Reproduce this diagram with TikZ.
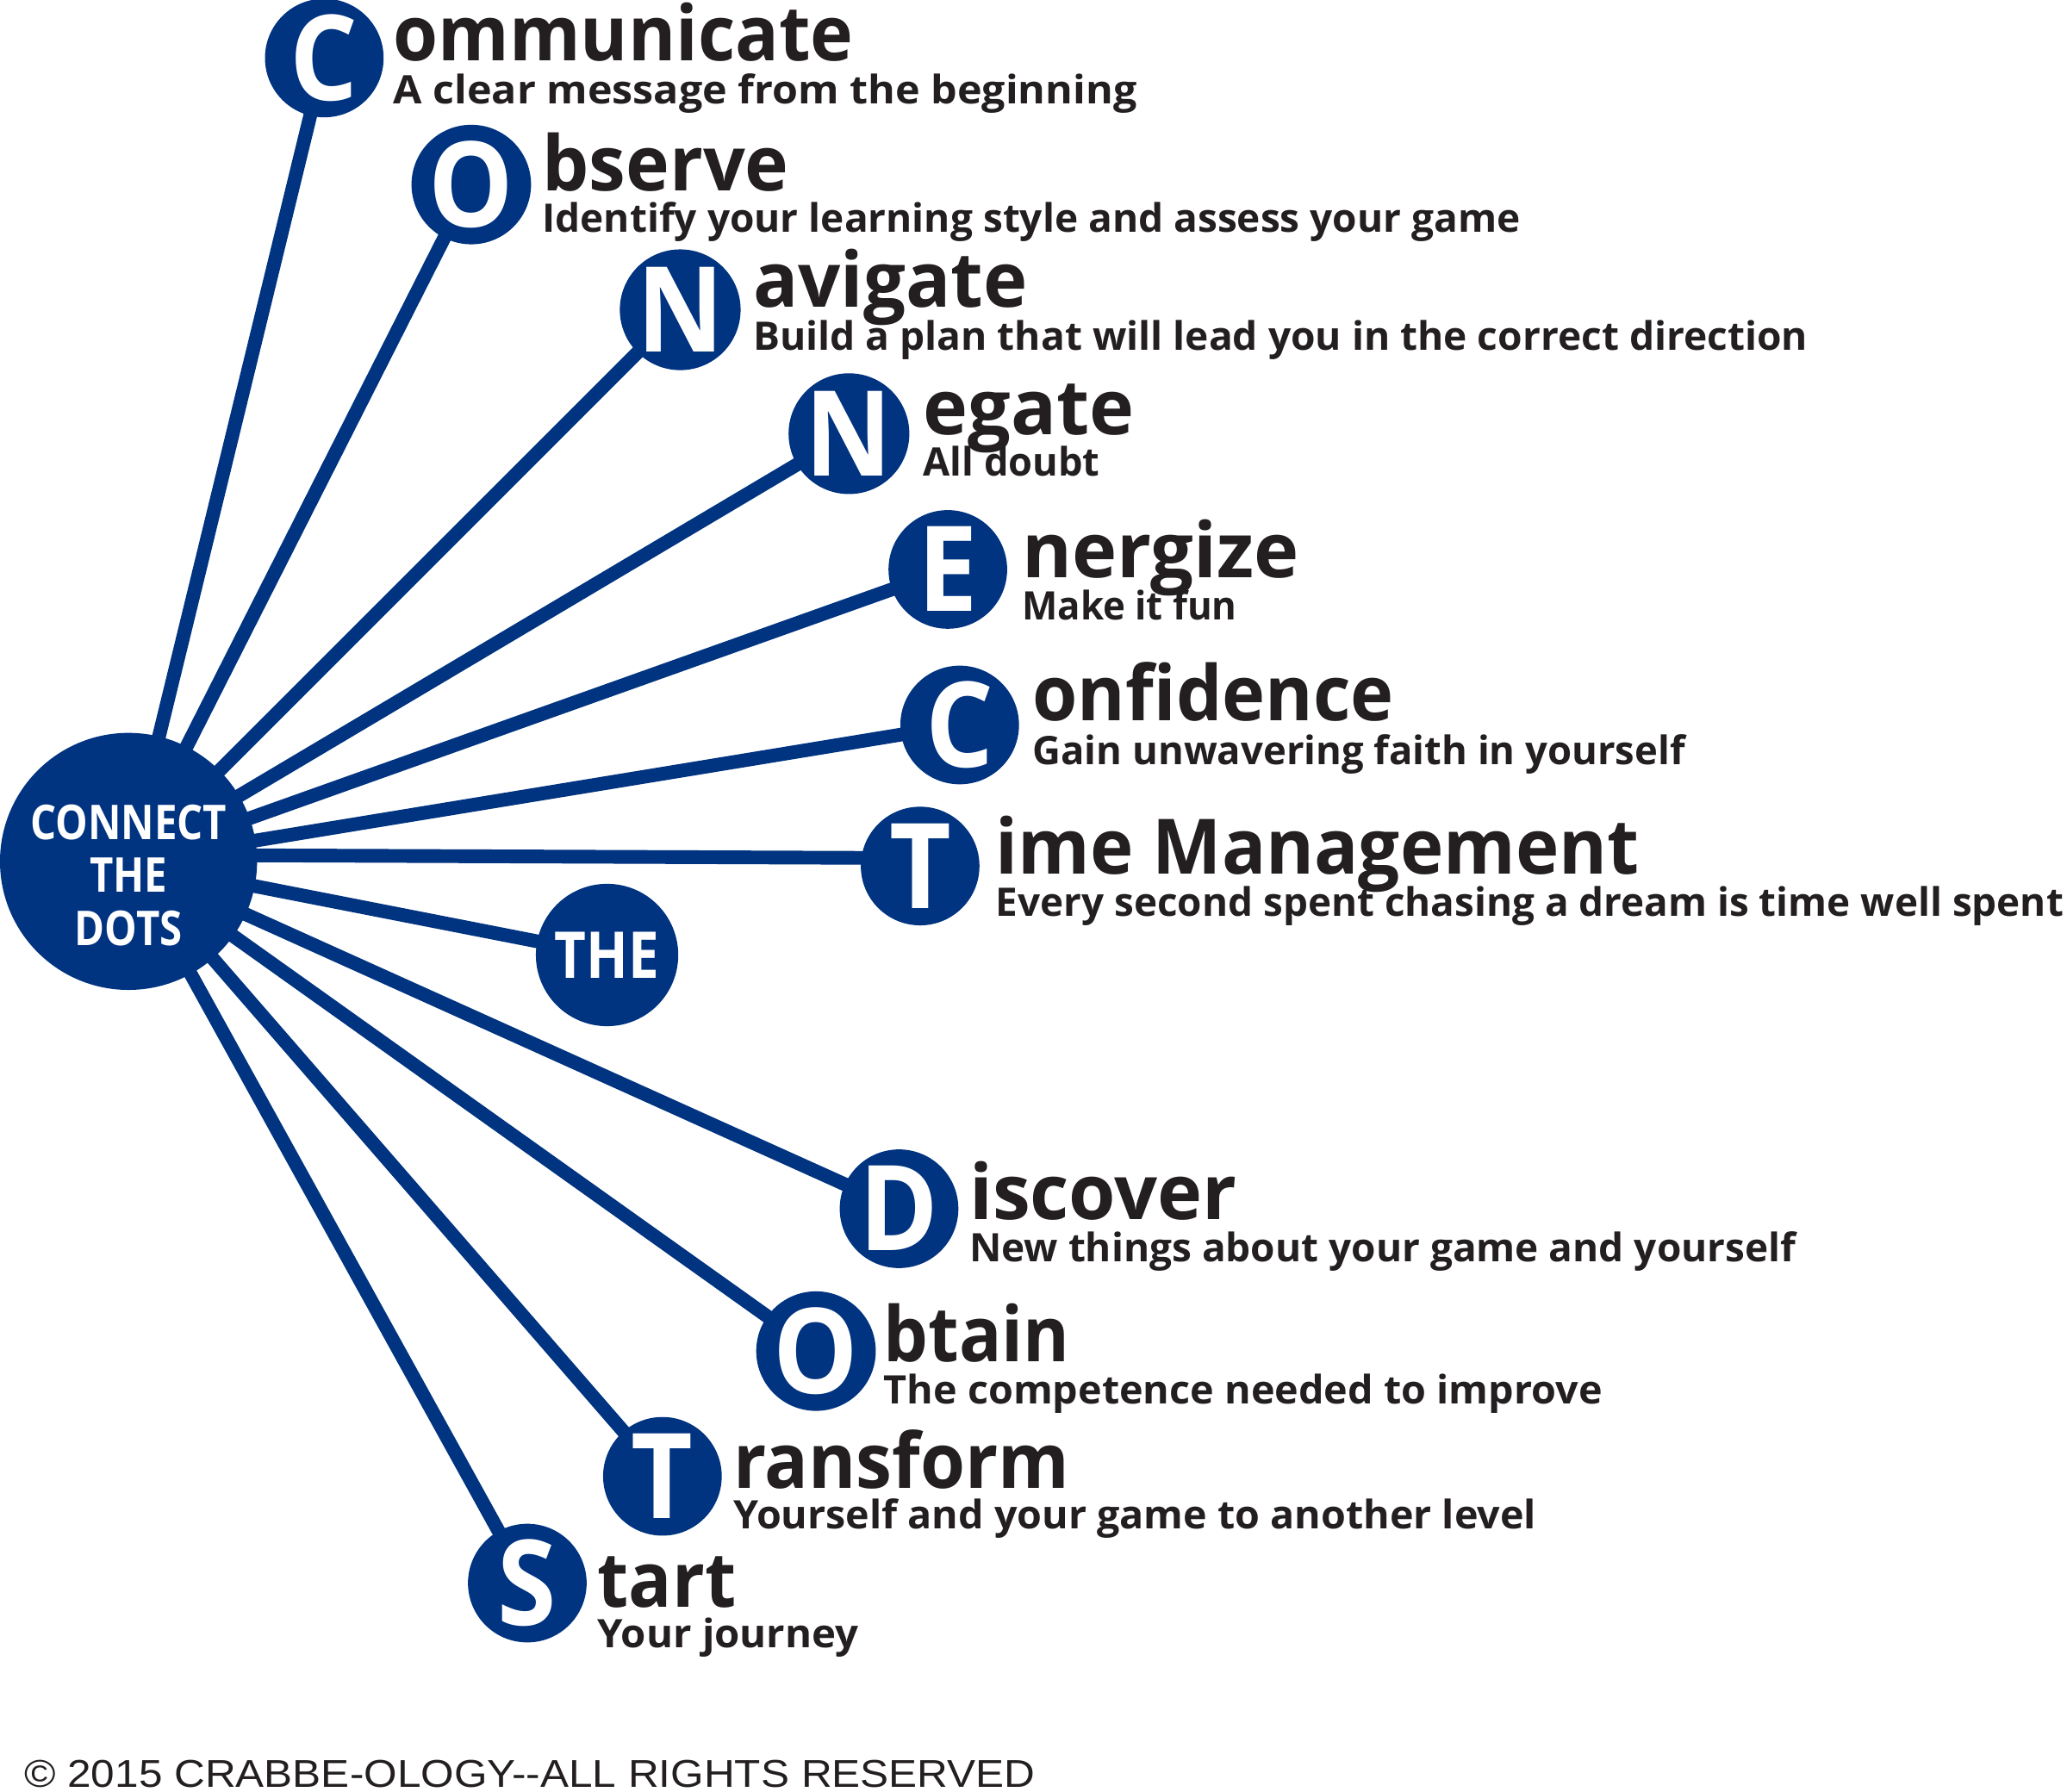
\documentclass[tikz,border=0pt]{standalone}
\usepackage{fontspec}
\setmainfont{Open Sans}
\newfontfamily\cpfont{Liberation Sans}
\usetikzlibrary{backgrounds}
\definecolor{cblue}{RGB}{0,51,128}
\definecolor{ctext}{RGB}{35,31,32}
\newcommand\fw[2]{\resizebox{#1}{\height}{#2}}
\begin{document}
\begin{tikzpicture}[x=0.5pt,y=-0.5pt,
  letter/.style={circle,fill=cblue,text=white,minimum size=45pt,inner sep=0pt,
    font=\bfseries\fontsize{45pt}{45pt}\selectfont,text height=32pt,text depth=0pt},
  hubnode/.style={circle,fill=cblue,minimum size=97.5pt,inner sep=0pt},
  thenode/.style={circle,fill=cblue,minimum size=54pt,inner sep=0pt,text=white,
    font=\bfseries\fontsize{24.5pt}{24.5pt}\selectfont,text height=17.5pt,text depth=0pt},
  head/.style={anchor=base west,inner sep=0pt,text=ctext,font=\bfseries\fontsize{29pt}{29pt}\selectfont},
  sub/.style={anchor=base west,inner sep=0pt,text=ctext,font=\bfseries\fontsize{14.9pt}{14.9pt}\selectfont},
  spoke/.style={draw=cblue,line width=5.2pt}]
\useasboundingbox (0,0) rectangle (1568,1359);
% hub
\node[hubnode] (hub) at (97.5,653.5) {};
\node[text=white,align=center,inner sep=0pt,font=\bfseries\fontsize{18.2pt}{20pt}\selectfont] (hubtext) at (97.5,664)
  {\scalebox{0.85}[1]{CONNECT}\\\scalebox{0.85}[1]{THE}\\\scalebox{0.85}[1]{DOTS}};
% letter circles
\node[letter] (c1) at (246,44) {\scalebox{0.9}[1]{C}};
\node[letter] (o1) at (357.5,140) {\scalebox{0.9}[1]{O}};
\node[letter] (n1) at (516,235) {\scalebox{0.9}[1]{N}};
\node[letter] (n2) at (644,329) {\scalebox{0.9}[1]{N}};
\node[letter] (e1) at (719,432) {\scalebox{0.9}[1]{E}};
\node[letter] (c2) at (728,550) {\scalebox{0.9}[1]{C}};
\node[letter] (t1) at (698,657) {\scalebox{0.9}[1]{T}};
\node[thenode] (the) at (460.5,724.5) {\scalebox{0.85}[1]{THE}};
\node[letter] (d1) at (682,917) {\scalebox{0.9}[1]{D}};
\node[letter] (o2) at (619,1025) {\scalebox{0.9}[1]{O}};
\node[letter] (t2) at (502.5,1120) {\scalebox{0.9}[1]{T}};
\node[letter] (s1) at (400,1201) {\scalebox{0.9}[1]{S}};
% spokes
\begin{scope}[on background layer]
\foreach \n in {c1,o1,n1,n2,e1,c2,the,d1,o2,t2,s1}
  \draw[spoke] (hub.center) -- (\n.center);
\draw[spoke] ([yshift=2.5pt]hub.center) -- ([yshift=3pt]t1.center);
\end{scope}
% headings and subtitles
\node[head] (h1) at (298,46) {\fw{174.5pt}{ommunicate}};
\node[sub] (s1t) at (298,79) {\fw{282pt}{A clear message from the beginning}};
\node[head] (h2) at (411,145) {\fw{93.5pt}{bserve}};
\node[sub] (s2t) at (411,176) {\fw{371pt}{Identify your learning style and assess your game}};
\node[head] (h3) at (571,233) {\fw{104pt}{avigate}};
\node[sub] (s3t) at (571,266) {\fw{400pt}{Build a plan that will lead you in the correct direction}};
\node[head] (h4) at (700,330) {\fw{80pt}{egate}};
\node[sub] (s4t) at (700,361) {\fw{67pt}{All doubt}};
\node[head] (h5) at (775,438) {\fw{105pt}{nergize}};
\node[sub] (s5t) at (775,470) {\fw{81.5pt}{Make it fun}};
\node[head] (h6) at (783,547) {\fw{137pt}{onfidence}};
\node[sub] (s6t) at (783,580) {\fw{247.5pt}{Gain unwavering faith in yourself}};
\node[head] (h7) at (755,663) {\fw{244pt}{ime Management}};
\node[sub] (s7t) at (755,695) {\fw{405pt}{Every second spent chasing a dream is time well spent}};
\node[head] (h8) at (735,925) {\fw{101.5pt}{iscover}};
\node[sub] (s8t) at (735,957) {\fw{313.5pt}{New things about your game and yourself}};
\node[head] (h9) at (670,1033) {\fw{70.5pt}{btain}};
\node[sub] (s9t) at (670,1065) {\fw{272.5pt}{The competence needed to improve}};
\node[head] (h10) at (556,1129) {\fw{127.5pt}{ransform}};
\node[sub] (s10t) at (556,1160) {\fw{304.5pt}{Yourself and your game to another level}};
\node[head] (h11) at (453,1219) {\fw{52.5pt}{tart}};
\node[sub] (s11t) at (453,1250) {\fw{99pt}{Your journey}};
% copyright
\node[anchor=base west,inner sep=0pt,text=ctext,font=\cpfont\fontsize{14.7pt}{14.7pt}\selectfont] (copy) at (18,1356)
  {\resizebox{383.5pt}{\height}{\textcopyright{} 2015 CRABBE-OLOGY-{}-ALL RIGHTS RESERVED}};
\end{tikzpicture}
\end{document}
